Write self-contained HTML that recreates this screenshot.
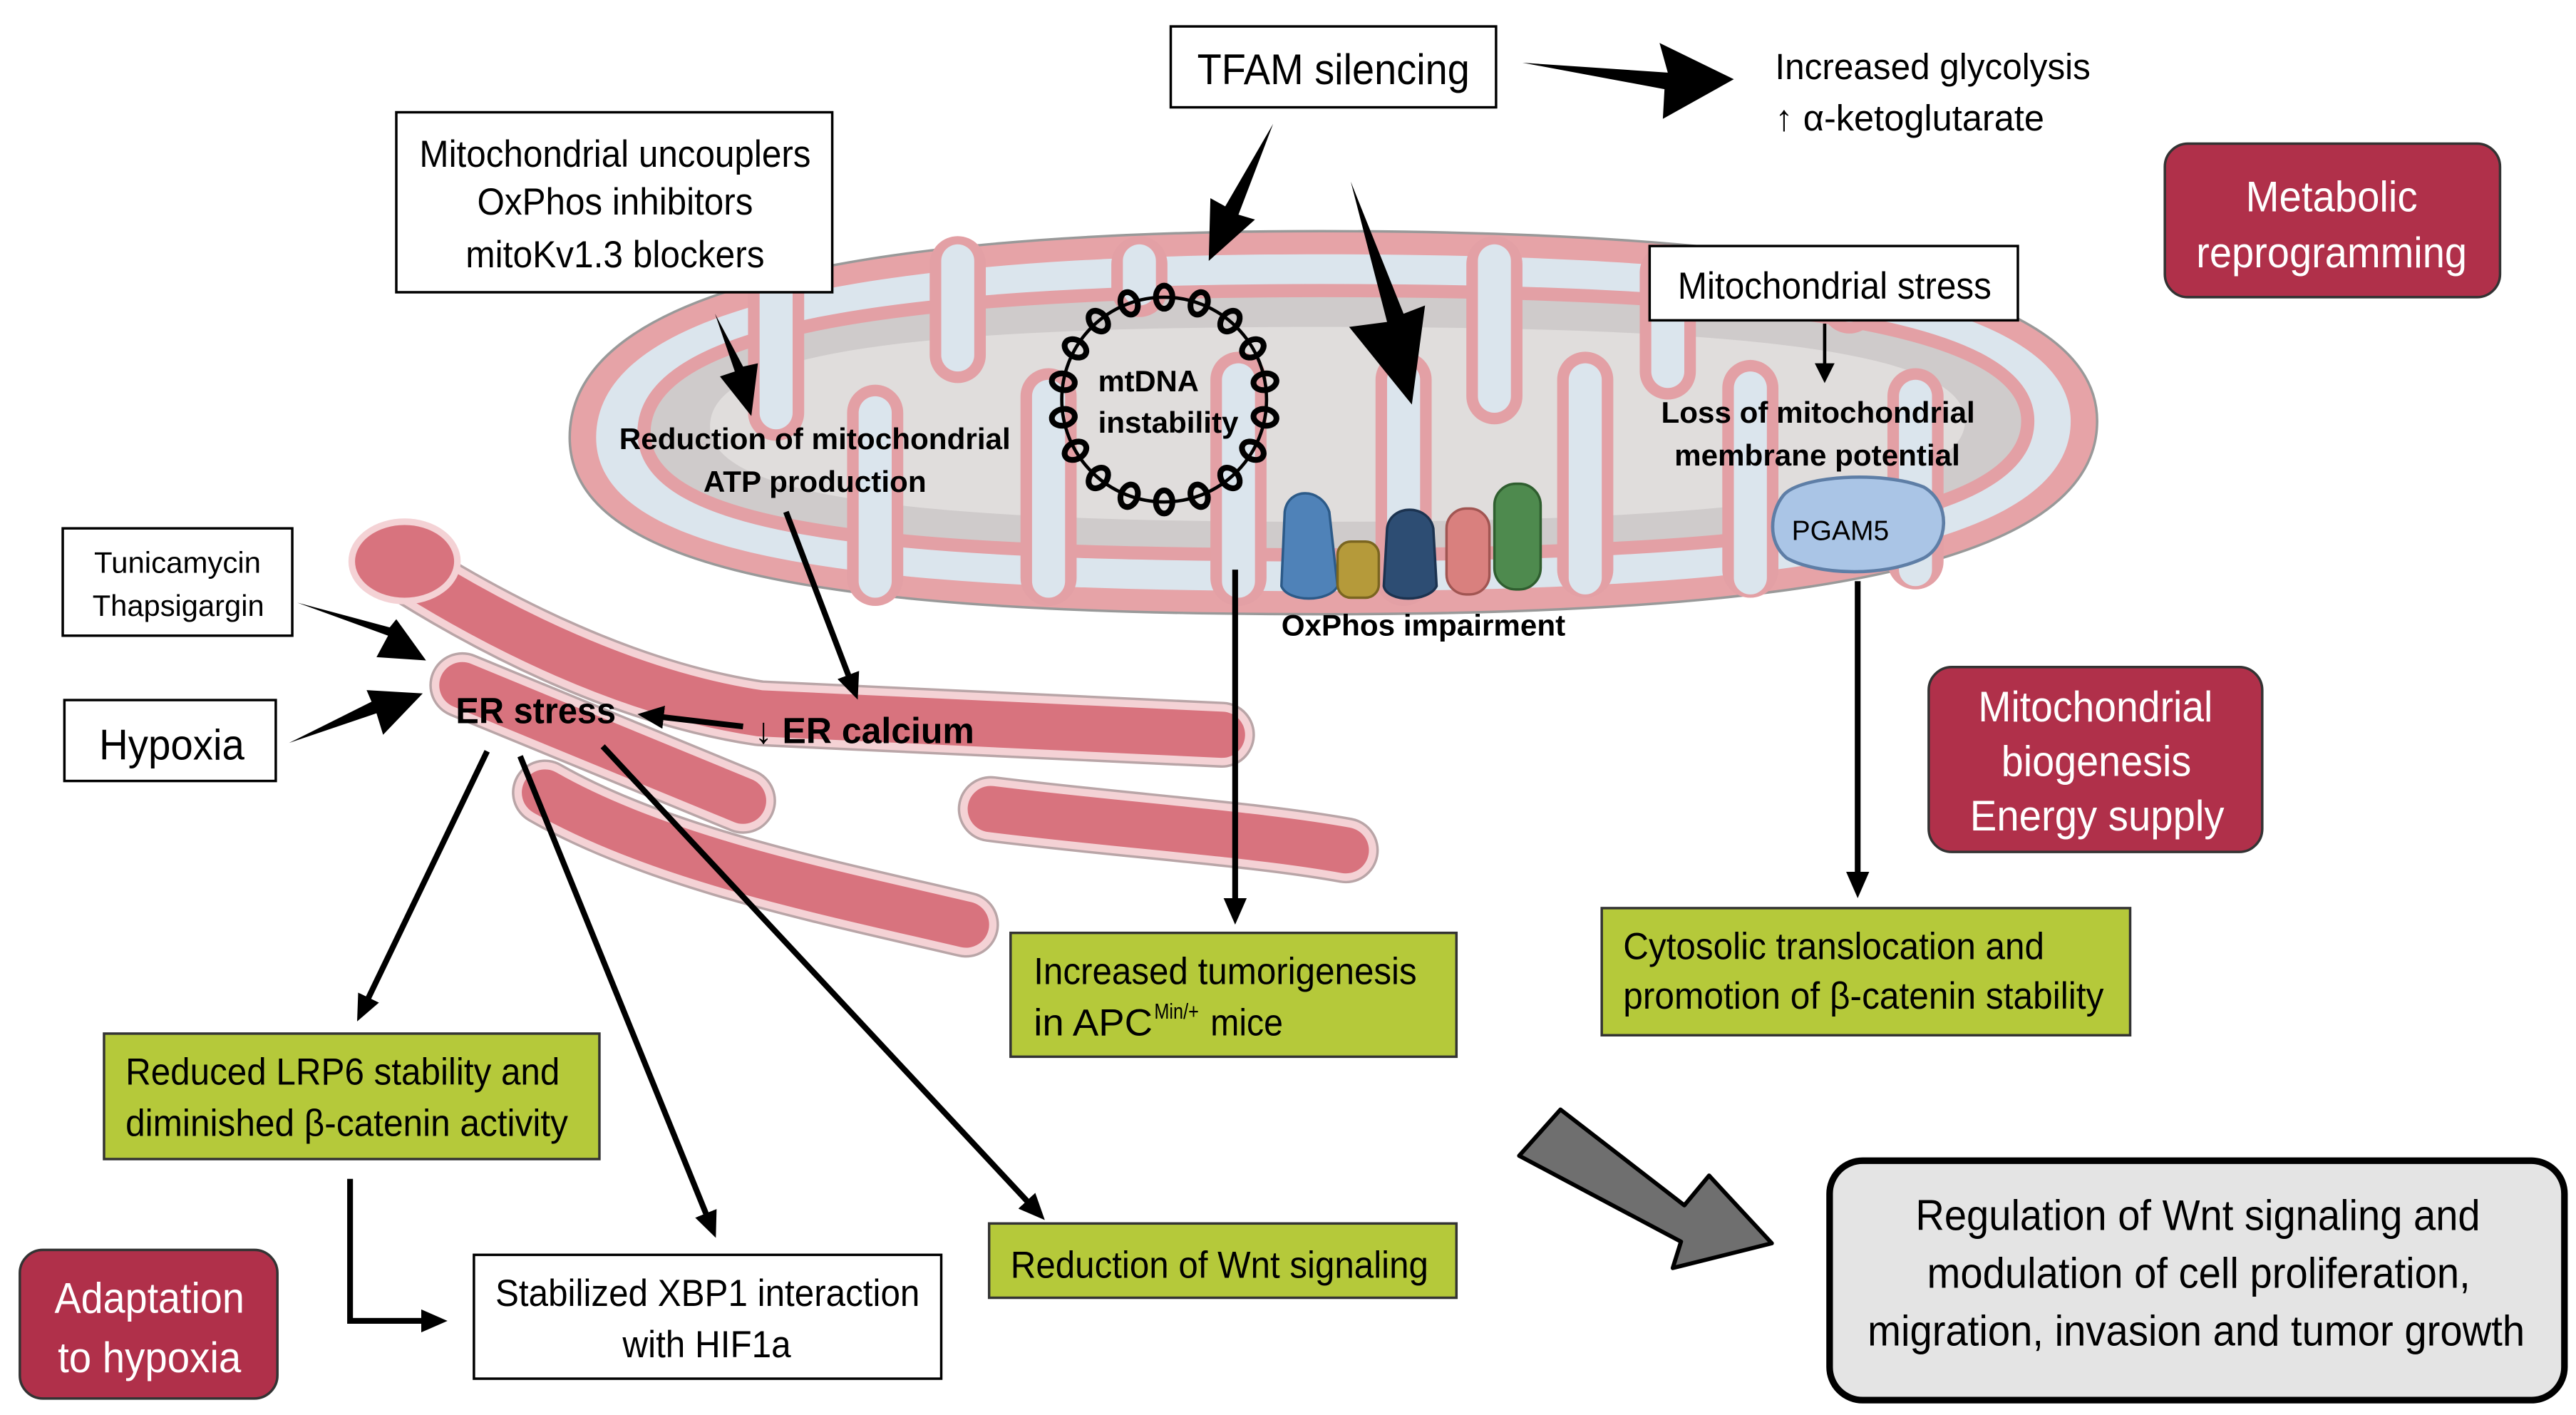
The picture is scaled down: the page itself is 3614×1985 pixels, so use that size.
<!DOCTYPE html>
<html><head><meta charset="utf-8"><style>
html,body{margin:0;padding:0;background:#fff;}
svg{display:block}
text{font-family:"Liberation Sans Narrow","Liberation Sans",sans-serif;}
</style></head><body>
<svg width="3614" height="1985" viewBox="0 0 1560 857" preserveAspectRatio="none" xmlns="http://www.w3.org/2000/svg">
<defs>
<marker id="ah2" markerWidth="16" markerHeight="14" refX="12" refY="7" orient="auto" markerUnits="userSpaceOnUse"><path d="M0,0 L16,7 L0,14 z" fill="#000"/></marker>
</defs>

<!-- Mitochondrion -->
<path d="M345,265 C345,175 520,140 800,140 C1080,140 1270,170 1270,255 C1270,345 1080,372 800,372 C520,372 345,350 345,265 Z" fill="#e6a3a7" stroke="#999" stroke-width="1.5"/>
<path d="M361,265 C361,185 530,154 800,154 C1070,154 1254,180 1254,255 C1254,335 1070,358 800,358 C530,358 361,340 361,265 Z" fill="#dbe5ed"/>
<path d="M390,262 C390,200 540,176 800,176 C1060,176 1228,195 1228,255 C1228,318 1060,336 800,336 C540,336 390,322 390,262 Z" fill="#cfcbcb" stroke="#e3a0a5" stroke-width="8"/>
<path d="M430,258 C430,212 560,198 800,198 C1040,198 1190,210 1190,255 C1190,300 1040,316 800,316 C560,316 430,302 430,258 Z" fill="#e0dddc"/>
<g stroke-linecap="round" fill="none">
<g stroke="#e3a0a5" stroke-width="34">
<path d="M470,160 L470,250"/><path d="M580,160 L580,215"/><path d="M690,160 L690,175"/><path d="M905,160 L905,240"/><path d="M1010,165 L1010,225"/><path d="M1120,170 L1120,185"/>
<path d="M530,350 L530,250"/><path d="M635,350 L635,240"/><path d="M750,350 L750,230"/><path d="M850,350 L850,230"/><path d="M960,345 L960,230"/><path d="M1060,345 L1060,235"/><path d="M1160,340 L1160,240"/>
</g>
<g stroke="#dbe5ed" stroke-width="20">
<path d="M470,158 L470,250"/><path d="M580,158 L580,215"/><path d="M690,158 L690,175"/><path d="M905,158 L905,240"/><path d="M1010,160 L1010,225"/><path d="M1120,165 L1120,185"/>
<path d="M530,352 L530,250"/><path d="M635,352 L635,240"/><path d="M750,352 L750,230"/><path d="M850,352 L850,230"/><path d="M960,350 L960,230"/><path d="M1060,350 L1060,235"/><path d="M1160,345 L1160,240"/>
</g>
</g>

<!-- ER tubes -->
<g fill="none" stroke-linecap="round" stroke-linejoin="round">
<g stroke="#b9a5a7" stroke-width="40">
<path d="M238,340 C300,380 380,420 460,432 L740,445"/>
<path d="M280,415 L450,485"/>
<path d="M330,480 C400,520 500,540 585,560"/>
<path d="M600,490 C680,500 760,505 815,515"/>
</g>
<g stroke="#f4d2d5" stroke-width="37">
<path d="M238,340 C300,380 380,420 460,432 L740,445"/>
<path d="M280,415 L450,485"/>
<path d="M330,480 C400,520 500,540 585,560"/>
<path d="M600,490 C680,500 760,505 815,515"/>
</g>
<g stroke="#d8737e" stroke-width="28">
<path d="M238,340 C300,380 380,420 460,432 L740,445"/>
<path d="M280,415 L450,485"/>
<path d="M330,480 C400,520 500,540 585,560"/>
<path d="M600,490 C680,500 760,505 815,515"/>
</g>
</g>
<ellipse cx="245" cy="340" rx="32" ry="24" fill="#d8737e" stroke="#f4d2d5" stroke-width="4"/>

<!-- mtDNA ring: chain links -->
<g fill="none" stroke="#000" stroke-width="3.5">
<circle cx="705" cy="242" r="62" stroke-width="2"/>
<g transform="translate(705,242)">
<ellipse cx="0" cy="-62" rx="5" ry="7"/>
<ellipse cx="0" cy="-62" rx="5" ry="7" transform="rotate(20)"/>
<ellipse cx="0" cy="-62" rx="5" ry="7" transform="rotate(40)"/>
<ellipse cx="0" cy="-62" rx="5" ry="7" transform="rotate(60)"/>
<ellipse cx="0" cy="-62" rx="5" ry="7" transform="rotate(80)"/>
<ellipse cx="0" cy="-62" rx="5" ry="7" transform="rotate(100)"/>
<ellipse cx="0" cy="-62" rx="5" ry="7" transform="rotate(120)"/>
<ellipse cx="0" cy="-62" rx="5" ry="7" transform="rotate(140)"/>
<ellipse cx="0" cy="-62" rx="5" ry="7" transform="rotate(160)"/>
<ellipse cx="0" cy="-62" rx="5" ry="7" transform="rotate(180)"/>
<ellipse cx="0" cy="-62" rx="5" ry="7" transform="rotate(200)"/>
<ellipse cx="0" cy="-62" rx="5" ry="7" transform="rotate(220)"/>
<ellipse cx="0" cy="-62" rx="5" ry="7" transform="rotate(240)"/>
<ellipse cx="0" cy="-62" rx="5" ry="7" transform="rotate(260)"/>
<ellipse cx="0" cy="-62" rx="5" ry="7" transform="rotate(280)"/>
<ellipse cx="0" cy="-62" rx="5" ry="7" transform="rotate(300)"/>
<ellipse cx="0" cy="-62" rx="5" ry="7" transform="rotate(320)"/>
<ellipse cx="0" cy="-62" rx="5" ry="7" transform="rotate(340)"/>
</g>
</g>

<!-- OxPhos proteins -->
<path d="M778,310 C780,295 800,295 805,310 L810,355 C805,365 780,365 776,355 Z" fill="#4f82b8" stroke="#2c5a88" stroke-width="1.5"/>
<rect x="810" y="328" width="25" height="34" rx="8" fill="#b59a3a" stroke="#7a6520" stroke-width="1.5"/>
<path d="M840,320 C842,305 865,305 868,320 L870,355 C865,365 840,365 838,355 Z" fill="#2d4d73" stroke="#1c3350" stroke-width="1.5"/>
<rect x="876" y="308" width="26" height="52" rx="12" fill="#d9807e" stroke="#a15552" stroke-width="1.5"/>
<rect x="905" y="293" width="28" height="64" rx="13" fill="#4e8a4e" stroke="#2f5e2f" stroke-width="1.5"/>

<!-- PGAM5 -->
<path d="M1080,300 C1090,288 1140,285 1165,295 C1182,305 1180,330 1165,338 C1140,350 1100,348 1082,338 C1070,328 1072,310 1080,300 Z" fill="#aac5e6" stroke="#5e7ea6" stroke-width="2"/>
<text x="1085" y="327" font-size="17" textLength="59" lengthAdjust="spacingAndGlyphs">PGAM5</text>

<g font-weight="bold" font-size="18" lengthAdjust="spacingAndGlyphs">
<text x="375" y="272" textLength="237" lengthAdjust="spacingAndGlyphs">Reduction of mitochondrial</text>
<text x="426" y="298" textLength="135" lengthAdjust="spacingAndGlyphs">ATP production</text>
<text x="665" y="237" textLength="61" lengthAdjust="spacingAndGlyphs">mtDNA</text>
<text x="665" y="262" textLength="85" lengthAdjust="spacingAndGlyphs">instability</text>
<text x="1006" y="256" textLength="190" lengthAdjust="spacingAndGlyphs">Loss of mitochondrial</text>
<text x="1014" y="282" textLength="173" lengthAdjust="spacingAndGlyphs">membrane potential</text>
<text x="776" y="385" textLength="172" lengthAdjust="spacingAndGlyphs">OxPhos impairment</text>
</g>

<!-- boxes -->
<rect x="709" y="16" width="197" height="49" fill="#fff" stroke="#000" stroke-width="1.5"/>
<text x="725" y="51" font-size="26" textLength="165" lengthAdjust="spacingAndGlyphs">TFAM silencing</text>
<text x="1075" y="48" font-size="22" textLength="191" lengthAdjust="spacingAndGlyphs">Increased glycolysis</text>
<text x="1075" y="79" font-size="22" textLength="163" lengthAdjust="spacingAndGlyphs">↑ α-ketoglutarate</text>

<rect x="240" y="68" width="264" height="109" fill="#fff" stroke="#000" stroke-width="1.5"/>
<g font-size="23"><text x="254" y="101" textLength="237" lengthAdjust="spacingAndGlyphs">Mitochondrial uncouplers</text><text x="289" y="130" textLength="167" lengthAdjust="spacingAndGlyphs">OxPhos inhibitors</text><text x="282" y="162" textLength="181" lengthAdjust="spacingAndGlyphs">mitoKv1.3 blockers</text></g>

<rect x="999" y="149" width="223" height="45" fill="#fff" stroke="#000" stroke-width="1.5"/>
<text x="1016" y="181" font-size="23" textLength="190" lengthAdjust="spacingAndGlyphs">Mitochondrial stress</text>

<rect x="1311" y="87" width="203" height="93" rx="14" fill="#b0304a" stroke="#333" stroke-width="1.5"/>
<g fill="#fff" font-size="26"><text x="1360" y="128" textLength="104" lengthAdjust="spacingAndGlyphs">Metabolic</text><text x="1330" y="162" textLength="164" lengthAdjust="spacingAndGlyphs">reprogramming</text></g>

<rect x="1168" y="404" width="202" height="112" rx="14" fill="#b0304a" stroke="#333" stroke-width="1.5"/>
<g fill="#fff" font-size="26"><text x="1198" y="437" textLength="142" lengthAdjust="spacingAndGlyphs">Mitochondrial</text><text x="1212" y="470" textLength="115" lengthAdjust="spacingAndGlyphs">biogenesis</text><text x="1193" y="503" textLength="154" lengthAdjust="spacingAndGlyphs">Energy supply</text></g>

<rect x="12" y="757" width="156" height="90" rx="14" fill="#b0304a" stroke="#333" stroke-width="1.5"/>
<g fill="#fff" font-size="26"><text x="33" y="795" textLength="115" lengthAdjust="spacingAndGlyphs">Adaptation</text><text x="35" y="831" textLength="111" lengthAdjust="spacingAndGlyphs">to hypoxia</text></g>

<rect x="38" y="320" width="139" height="65" fill="#fff" stroke="#000" stroke-width="1.5"/>
<g font-size="18"><text x="57" y="347" textLength="101" lengthAdjust="spacingAndGlyphs">Tunicamycin</text><text x="56" y="373" textLength="104" lengthAdjust="spacingAndGlyphs">Thapsigargin</text></g>

<rect x="39" y="424" width="128" height="49" fill="#fff" stroke="#000" stroke-width="1.5"/>
<text x="60" y="460" font-size="26" textLength="88" lengthAdjust="spacingAndGlyphs">Hypoxia</text>

<text x="276" y="438" font-size="22" font-weight="bold" textLength="97" lengthAdjust="spacingAndGlyphs">ER stress</text>
<text x="457" y="450" font-size="22" font-weight="bold" textLength="133" lengthAdjust="spacingAndGlyphs">↓ ER calcium</text>

<!-- green boxes -->
<g fill="#b5c93a" stroke="#333" stroke-width="1.5">
<rect x="612" y="565" width="270" height="75"/>
<rect x="970" y="550" width="320" height="77"/>
<rect x="63" y="626" width="300" height="76"/>
<rect x="599" y="741" width="283" height="45"/>
</g>
<g font-size="23">
<text x="626" y="596" textLength="232" lengthAdjust="spacingAndGlyphs">Increased tumorigenesis</text>
<text x="626" y="627" textLength="72" lengthAdjust="spacingAndGlyphs">in APC</text>
<text x="699" y="617" font-size="13" textLength="27" lengthAdjust="spacingAndGlyphs">Min/+</text>
<text x="733" y="627" textLength="44" lengthAdjust="spacingAndGlyphs">mice</text>
<text x="983" y="581" textLength="255" lengthAdjust="spacingAndGlyphs">Cytosolic translocation and</text>
<text x="983" y="611" textLength="291" lengthAdjust="spacingAndGlyphs">promotion of β-catenin stability</text>
<text x="76" y="657" textLength="263" lengthAdjust="spacingAndGlyphs">Reduced LRP6 stability and</text>
<text x="76" y="688" textLength="268" lengthAdjust="spacingAndGlyphs">diminished β-catenin activity</text>
<text x="612" y="774" textLength="253" lengthAdjust="spacingAndGlyphs">Reduction of Wnt signaling</text>
</g>

<rect x="287" y="760" width="283" height="75" fill="#fff" stroke="#000" stroke-width="1.5"/>
<g font-size="23"><text x="300" y="791" textLength="257" lengthAdjust="spacingAndGlyphs">Stabilized XBP1 interaction</text><text x="377" y="822" textLength="102" lengthAdjust="spacingAndGlyphs">with HIF1a</text></g>

<rect x="1108" y="703" width="445" height="145" rx="20" fill="#e4e4e4" stroke="#000" stroke-width="4"/>
<g font-size="26"><text x="1160" y="745" textLength="342" lengthAdjust="spacingAndGlyphs">Regulation of Wnt signaling and</text><text x="1167" y="780" textLength="329" lengthAdjust="spacingAndGlyphs">modulation of cell proliferation,</text><text x="1131" y="815" textLength="398" lengthAdjust="spacingAndGlyphs">migration, invasion and tumor growth</text></g>

<!-- big black arrows -->
<path d="M922,38 L1010,44 L1005,26 L1050,48 L1007,72 L1008,54 Z" fill="#000"/>
<path d="M771,75 L750,130 L760,133 L732,158 L733,120 L742,125 Z" fill="#000"/>
<path d="M818,110 L840,195 L817,198 L855,245 L863,185 L850,190 Z" fill="#000"/>
<path d="M433,190 L445,225 L436,228 L455,252 L459,220 L450,222 Z" fill="#000"/>
<path d="M180,365 L235,385 L228,398 L258,400 L240,375 L236,380 Z" fill="#000"/>
<path d="M175,450 L228,432 L232,445 L256,420 L222,418 L225,425 Z" fill="#000"/>
<path d="M1105,196 L1105,222" stroke="#000" stroke-width="2"/><path d="M1099,220 L1105,232 L1111,220 Z" fill="#000"/>

<g stroke="#000" stroke-width="3.5" fill="none" marker-end="url(#ah2)">
<path d="M476,310 L518,420"/>
<path d="M450,440 L390,433"/>
<path d="M748,345 L748,556"/>
<path d="M1125,352 L1125,540"/>
<path d="M295,455 L218,615"/>
<path d="M315,458 L432,746"/>
<path d="M365,452 L630,736"/>
<path d="M212,714 L212,800 L267,800"/>
</g>

<path d="M920,700 L945,672 L1020,730 L1035,712 L1073,753 L1013,768 L1018,752 Z" fill="#6f6f6f" stroke="#000" stroke-width="2.5" stroke-linejoin="round"/>
</svg>
</body></html>
